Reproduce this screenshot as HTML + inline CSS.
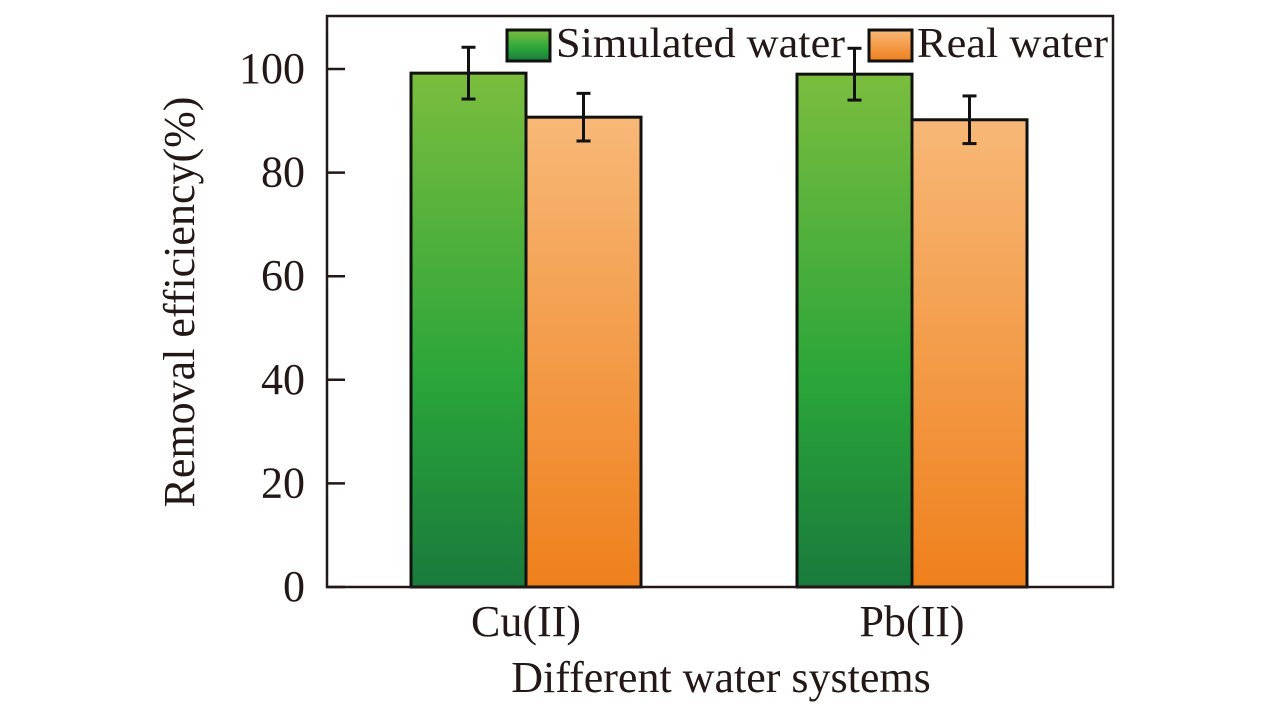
<!DOCTYPE html>
<html><head><meta charset="utf-8"><style>
body{margin:0;background:#fff;width:1283px;height:709px;overflow:hidden}
svg{font-family:"Liberation Serif",serif;fill:#231815}
</style></head><body>
<svg id="chart" width="1283" height="709">
<defs>
<linearGradient id="gG" x1="0" y1="0" x2="0" y2="1"><stop offset="0" stop-color="#7bbd3e"/><stop offset="0.6" stop-color="#2aa53a"/><stop offset="1" stop-color="#1a7a3c"/></linearGradient>
<linearGradient id="gO" x1="0" y1="0" x2="0" y2="1"><stop offset="0" stop-color="#f7b877"/><stop offset="1" stop-color="#ef801c"/></linearGradient>
</defs>
<g id="marks"></g>
<rect x="327" y="16" width="786" height="571" fill="none" stroke="#231815" stroke-width="2.5"/>
<g id="axes"></g>
<text x="0" y="0" transform="translate(194,302) rotate(-90)" text-anchor="middle" font-size="44">Removal efficiency(%)</text>
<text x="721" y="692" text-anchor="middle" font-size="44">Different water systems</text>
<g>
<rect x="507" y="30" width="43" height="31" fill="url(#gG)" stroke="#111" stroke-width="3"/>
<text x="556" y="57" font-size="42" textLength="289" lengthAdjust="spacingAndGlyphs">Simulated water</text>
<rect x="869" y="30" width="43" height="31" fill="url(#gO)" stroke="#111" stroke-width="3"/>
<text x="917" y="57" font-size="42" textLength="191" lengthAdjust="spacingAndGlyphs">Real water</text>
</g>
</svg>
<script>
const categories=["Cu(II)","Pb(II)"];
const simulated=[99.2,99.0];
const simulatedErr=[5.0,5.0];
const real=[90.7,90.2];
const realErr=[4.6,4.6];
const yTicks=[0,20,40,60,80,100];
const NS="http://www.w3.org/2000/svg";
const y0=587,pxPerUnit=5.18;
const y=v=>y0-v*pxPerUnit;
const catCenter=i=>526+i*386;
const bw=115;
const marks=document.getElementById('marks'),axes=document.getElementById('axes');
function mk(t,a,p){const e=document.createElementNS(NS,t);for(const k in a)e.setAttribute(k,a[k]);p.appendChild(e);return e;}
function bar(i,val,err,left,fill,name){
  const r=mk('rect',{x:left,y:y(val),width:bw,height:y0-y(val),fill:fill,stroke:'#111','stroke-width':3},marks);
  
  
  const cx=left+bw/2;
  const g=mk('g',{stroke:'#111','stroke-width':3},marks);
  
  
  mk('line',{x1:cx,x2:cx,y1:y(val+err),y2:y(val-err)},g);
  mk('line',{x1:cx-7,x2:cx+7,y1:y(val+err),y2:y(val+err)},g);
  mk('line',{x1:cx-7,x2:cx+7,y1:y(val-err),y2:y(val-err)},g);
}
categories.forEach((c,i)=>{
  const cx=catCenter(i);
  bar(i,simulated[i],simulatedErr[i],cx-bw,'url(#gG)','simulated');
  bar(i,real[i],realErr[i],cx,'url(#gO)','real');
  const t=mk('text',{x:cx,y:636,'text-anchor':'middle','font-size':44},axes);
  t.textContent=c;
  
  
});
yTicks.forEach(v=>{
  const l=mk('line',{x1:327,x2:345,y1:y(v),y2:y(v),stroke:'#231815','stroke-width':2.5},axes);
  
  
  const t=mk('text',{x:305,y:y(v)+14,'text-anchor':'end','font-size':44},axes);
  t.textContent=v;
  
  
});
</script>
</body></html>
